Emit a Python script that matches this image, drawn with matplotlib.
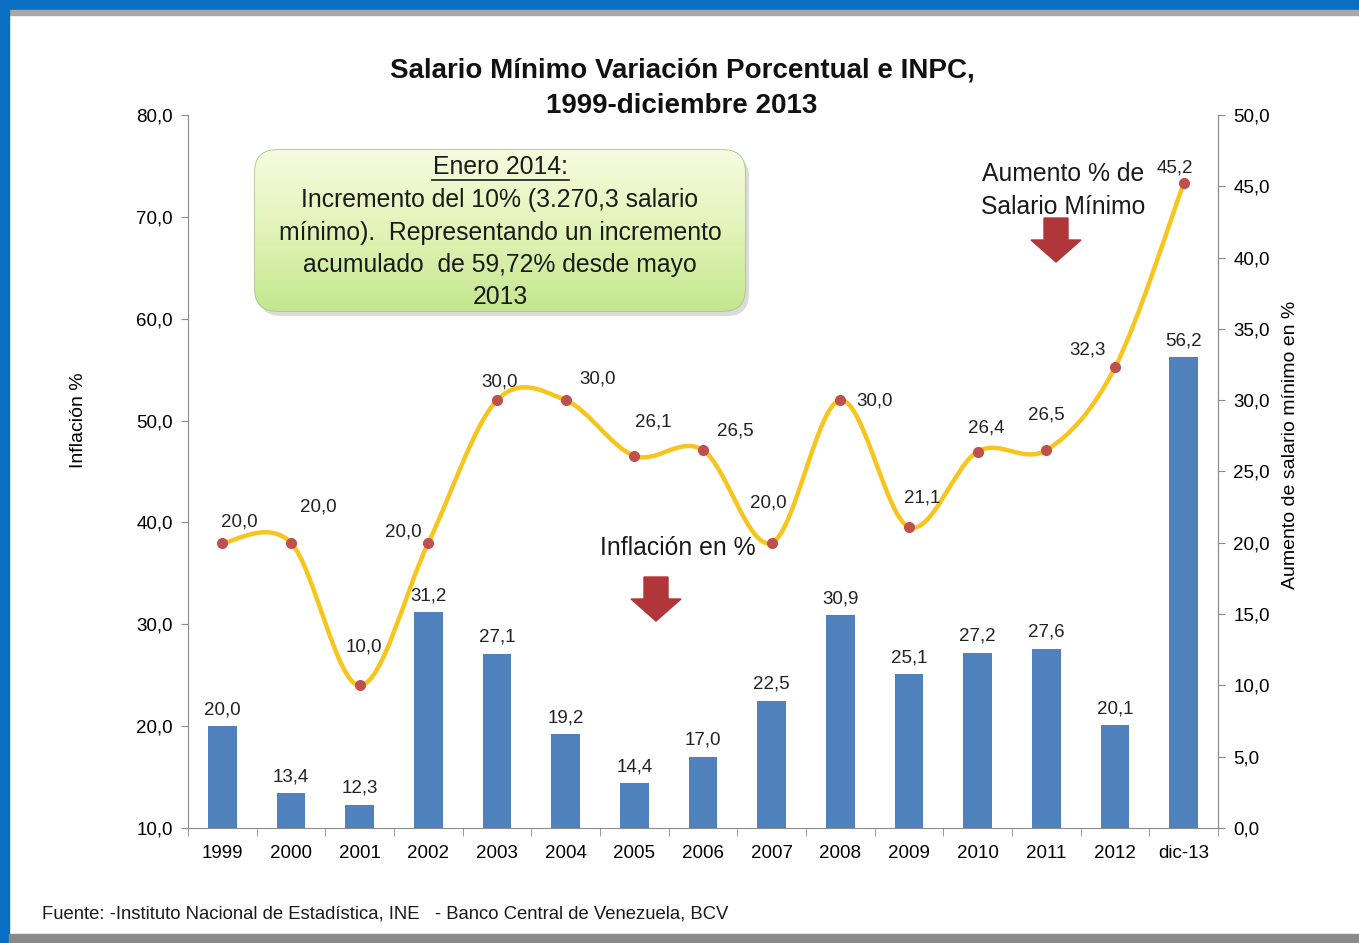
import numpy as np
import matplotlib
matplotlib.use('Agg')
import matplotlib.pyplot as plt
from matplotlib.path import Path
from matplotlib.patches import PathPatch, FancyBboxPatch, Rectangle, Polygon
from matplotlib.colors import LinearSegmentedColormap

plt.rcParams['font.family'] = ['Liberation Sans', 'DejaVu Sans']

# Datos
anios = ['1999', '2000', '2001', '2002', '2003', '2004', '2005', '2006',
         '2007', '2008', '2009', '2010', '2011', '2012', 'dic-13']
inflacion = [20.0, 13.4, 12.3, 31.2, 27.1, 19.2, 14.4, 17.0,
             22.5, 30.9, 25.1, 27.2, 27.6, 20.1, 56.2]
aumento_salario = [20.0, 20.0, 10.0, 20.0, 30.0, 30.0, 26.1, 26.5,
                   20.0, 30.0, 21.1, 26.4, 26.5, 32.3, 45.2]
# desplazamiento de las etiquetas de la linea (pixeles)
offs_linea = [(17, 21), (27, 36), (4, 38), (-25, 11), (3, 18), (32, 21), (19, 34),
              (32, 19), (-3, 40), (34, -1), (13, 29), (9, 24), (0, 35), (-27, 17), (-9, 15)]

azul = '#4F81BD'
amarillo = '#F7C51E'
rojo_punto = '#C0504D'
gris_eje = '#8C8C8C'
rojo_flecha = '#B0363A'

W, H = 1359, 943
fig = plt.figure(figsize=(W / 100, H / 100), dpi=100)

ax = fig.add_axes([188 / W, 1 - 828 / H, (1218 - 188) / W, (828 - 115) / H])
x = np.arange(len(anios))

ax.bar(x, inflacion, width=0.42, color=azul, zorder=2)
ax.set_xlim(-0.5, len(anios) - 0.5)
ax.set_ylim(10, 80)
ax.set_yticks(np.arange(10, 81, 10))
ax.set_yticklabels([f'{v:.1f}'.replace('.', ',') for v in np.arange(10, 81, 10)])
ax.set_xticks(x)
ax.set_xticklabels(anios)
ax.set_xticks(np.arange(-0.5, len(anios), 1), minor=True)
ax.tick_params(axis='x', which='major', length=0, pad=12, labelsize=13.5)
ax.tick_params(axis='x', which='minor', length=6, color=gris_eje, direction='out')
ax.tick_params(axis='y', length=5, color=gris_eje, labelsize=13.5, pad=6)
ax.spines['top'].set_visible(False)
for s in ['left', 'right', 'bottom']:
    ax.spines[s].set_color(gris_eje)
ax.set_ylabel('Inflación %', fontsize=14)
ax.yaxis.set_label_coords(-0.098, 0.572)

for xi, v in zip(x, inflacion):
    ax.annotate(f'{v:.1f}'.replace('.', ','), (xi, v), xytext=(0, 8),
                textcoords='offset pixels', ha='center', va='bottom', fontsize=13.5,
                color='#222222')

# eje derecho: aumento del salario minimo
ax2 = ax.twinx()
ax2.set_ylim(0, 50)
ax2.set_yticks(np.arange(0, 51, 5))
ax2.set_yticklabels([f'{v:.1f}'.replace('.', ',') for v in np.arange(0, 51, 5)])
ax2.tick_params(axis='y', length=5, color=gris_eje, labelsize=13.5, pad=6)
for s in ['top', 'left', 'bottom']:
    ax2.spines[s].set_visible(False)
ax2.spines['right'].set_color(gris_eje)
ax2.set_ylabel('Aumento de salario mínimo en %', fontsize=14)
ax2.yaxis.set_label_coords(1.062, 0.537)

# linea suavizada (bezier tipo Excel)
pts = np.column_stack([x, aumento_salario]).astype(float)
ext = np.vstack([pts[0], pts, pts[-1]])
verts = [tuple(pts[0])]
codes = [Path.MOVETO]
for i in range(len(pts) - 1):
    p0, p1, p2, p3 = ext[i], ext[i + 1], ext[i + 2], ext[i + 3]
    c1 = p1 + (p2 - p0) / 6
    c2 = p2 - (p3 - p1) / 6
    verts += [tuple(c1), tuple(c2), tuple(p2)]
    codes += [Path.CURVE4] * 3
ax2.add_patch(PathPatch(Path(verts, codes), facecolor='none', edgecolor=amarillo,
                        lw=3.2, zorder=3, capstyle='round'))
ax2.plot(x, aumento_salario, 'o', color=rojo_punto, ms=7, zorder=4)
for xi, v, (dx, dy) in zip(x, aumento_salario, offs_linea):
    ax2.annotate(f'{v:.1f}'.replace('.', ','), (xi, v), xytext=(dx, dy),
                 textcoords='offset pixels', ha='center', va='center', fontsize=13.5,
                 color='#222222')

# capa de decoracion en pixeles
ov = fig.add_axes([0, 0, 1, 1], zorder=5)
ov.set_xlim(0, W)
ov.set_ylim(H, 0)
ov.axis('off')
ov.patch.set_alpha(0)

# marco
ov.add_patch(Rectangle((0, 0), W, 10, color='#0A6EC2'))
ov.add_patch(Rectangle((0, 10), W, 5, color='#A8A8A8'))
ov.add_patch(Rectangle((0, 0), 9, H, color='#0A6EC2'))
ov.add_patch(Rectangle((9, 934), W, 9, color='#8A8A8A'))

ov.text(682, 70, 'Salario Mínimo Variación Porcentual e INPC,', ha='center', va='center',
        fontsize=20, fontweight='bold', color='#111111')
ov.text(682, 106, '1999-diciembre 2013', ha='center', va='center',
        fontsize=20, fontweight='bold', color='#111111')

# cuadro verde
sombra = FancyBboxPatch((259, 155), 490, 161, boxstyle='round,pad=0,rounding_size=22',
                        facecolor='#9a9a9a', edgecolor='none', alpha=0.35)
ov.add_patch(sombra)
caja = FancyBboxPatch((255, 150), 490, 161, boxstyle='round,pad=0,rounding_size=22',
                      facecolor='none', edgecolor='#A9C48A', lw=1.2)
ov.add_patch(caja)
grad = np.linspace(0, 1, 100).reshape(-1, 1)
cm = LinearSegmentedColormap.from_list('g', ['#F6FBDD', '#E2F4B8', '#C3E78F'])
im = ov.imshow(grad, cmap=cm, extent=(255, 745, 311, 150), aspect='auto', zorder=1)
im.set_clip_path(caja)
ov.text(500, 167, 'Enero 2014:', ha='center', va='center', fontsize=17.8, color='#1a1a1a')
ov.plot([432, 569], [180, 180], color='#1a1a1a', lw=1.2)
for yy, t in zip([200, 233, 265, 297],
                 ['Incremento del 10% (3.270,3 salario',
                  'mínimo).  Representando un incremento',
                  'acumulado  de 59,72% desde mayo', '2013']):
    ov.text(500, yy, t, ha='center', va='center', fontsize=17.8, color='#1a1a1a')

ov.text(1063, 174, 'Aumento % de', ha='center', va='center', fontsize=17.8, color='#1a1a1a')
ov.text(1063, 207, 'Salario Mínimo', ha='center', va='center', fontsize=17.8, color='#1a1a1a')
ov.text(678, 548, 'Inflación en %', ha='center', va='center', fontsize=17.8, color='#1a1a1a')


def flecha(cx, y0, y1, y2):
    ov.add_patch(Polygon([(cx - 12, y0), (cx + 12, y0), (cx + 12, y1), (cx + 25, y1),
                          (cx, y2), (cx - 25, y1), (cx - 12, y1)],
                         closed=True, color=rojo_flecha))


flecha(656, 577, 599, 621)
flecha(1056, 218, 240, 262)

ov.text(42, 914, 'Fuente: -Instituto Nacional de Estadística, INE   - Banco Central de Venezuela, BCV',
        ha='left', va='center', fontsize=13.3, color='#1a1a1a')

fig.savefig('out.png', dpi=100)
